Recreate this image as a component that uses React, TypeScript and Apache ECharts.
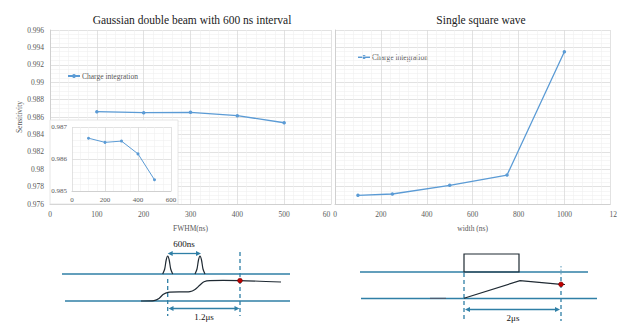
import React, { useEffect, useRef } from "react";
import * as echarts from "echarts";

const fwhm = [100, 200, 300, 400, 500];
const gaussSens = [0.98661, 0.9865, 0.98654, 0.98615, 0.98534];
const insetSens = [0.98665, 0.98652, 0.98656, 0.98616, 0.98535];
const widths = [100, 250, 500, 750, 1000];
const squareSens = [0.977, 0.97715, 0.97815, 0.97933, 0.99351];

const SERIF = "'Liberation Serif', 'Times New Roman', serif";
const TEAL = "#2f7fa6";
const DARK = "#1f2a33";
const BLUE = "#5b9bd5";
const LBL = "#595959";

function arrowHeads(x1: number, x2: number, y: number) {
  return [
    { type: "polygon", z: 20, shape: { points: [[x1, y], [x1 + 5, y - 2.5], [x1 + 5, y + 2.5]] }, style: { fill: TEAL } },
    { type: "polygon", z: 20, shape: { points: [[x2, y], [x2 - 5, y - 2.5], [x2 - 5, y + 2.5]] }, style: { fill: TEAL } },
    { type: "line", z: 20, shape: { x1: x1 + 3, y1: y, x2: x2 - 3, y2: y }, style: { stroke: TEAL, lineWidth: 1.3 } },
  ];
}

function peak(cx: number, base: number, top: number) {
  return {
    type: "polyline",
    z: 20,
    shape: {
      points: [[cx - 5, base], [cx - 3, base - 5], [cx - 1.5, top + 4], [cx, top], [cx + 1.5, top + 4], [cx + 3, base - 5], [cx + 5, base]],
      smooth: 0.3,
    },
    style: { stroke: DARK, lineWidth: 1.2, fill: null },
  };
}

export default function App() {
  const ref = useRef<HTMLDivElement>(null);
  useEffect(() => {
    if (!ref.current) return;
    const chart = echarts.init(ref.current, undefined, { renderer: "svg" });
    const majorLine = { show: true, lineStyle: { color: "#dadada", width: 0.8 } };
    const minorLine = { show: true, lineStyle: { color: "#f0f0f0", width: 0.6 } };
    const lbl = { fontFamily: SERIF, fontSize: 7.5, color: LBL };
    const plain = (v: number) => String(v);
    const dashed = (x: number, y1: number, y2: number) => ({
      type: "line", z: 20, shape: { x1: x, y1, x2: x, y2 }, style: { stroke: TEAL, lineWidth: 1.3, lineDash: [4, 3] },
    });
    const option: any = {
      animation: false,
      backgroundColor: "#ffffff",
      title: [
        { text: "Gaussian double beam with 600 ns interval", left: 187, top: 9, textAlign: "center", textStyle: { fontFamily: SERIF, fontSize: 11.5, fontWeight: "normal", color: "#222" } },
        { text: "Single square wave", left: 476, top: 9, textAlign: "center", textStyle: { fontFamily: SERIF, fontSize: 11.5, fontWeight: "normal", color: "#222" } },
      ],
      legend: [
        { data: ["Charge integration"], left: 62, top: 67, itemWidth: 12, itemHeight: 5, textStyle: { ...lbl, padding: [0, 0, 0, -3] }, selectedMode: false },
        { data: ["Charge integration"], left: 352, top: 48, itemWidth: 12, itemHeight: 5, textStyle: { ...lbl, padding: [0, 0, 0, -3] }, selectedMode: false },
      ],
      grid: [
        { left: 50, right: 289, top: 30, bottom: 119, z: 0 },
        { left: 335, right: 1, top: 30, bottom: 119, z: 6 },
        { left: 72, right: 449, top: 127, bottom: 132, z: 10 },
      ],
      xAxis: [
        {
          gridIndex: 0, type: "value", min: 0, max: 600, interval: 100, z: 0,
          name: "FWHM(ns)", nameLocation: "middle", nameGap: 20, nameTextStyle: lbl,
          axisLine: { show: true, lineStyle: { color: "#d0d0d0" } }, axisTick: { show: false },
          axisLabel: {
            ...lbl, margin: 6,
            formatter: (v: number) => (v === 600 ? "{c|60}" : String(v)),
            rich: { c: { ...lbl, padding: [0, 9, 0, 0] } },
          },
          splitLine: majorLine, minorTick: { show: false, splitNumber: 5 }, minorSplitLine: minorLine,
        },
        {
          gridIndex: 1, type: "value", min: 0, max: 1200, interval: 200, z: 6,
          name: "width (ns)", nameLocation: "middle", nameGap: 20, nameTextStyle: lbl,
          axisLine: { show: true, lineStyle: { color: "#d0d0d0" } }, axisTick: { show: false },
          axisLabel: {
            ...lbl, margin: 6,
            formatter: (v: number) => (v === 1200 ? "{c|12}" : String(v)),
            rich: { c: { ...lbl, padding: [0, 0, 0, 6] } },
          },
          splitLine: majorLine, minorTick: { show: false, splitNumber: 5 }, minorSplitLine: minorLine,
        },
        {
          gridIndex: 2, type: "value", min: 0, max: 600, interval: 200, z: 10,
          axisLine: { show: true, lineStyle: { color: "#d0d0d0" } }, axisTick: { show: false },
          axisLabel: { ...lbl, fontSize: 7, margin: 5, formatter: plain },
          splitLine: majorLine, minorTick: { show: false, splitNumber: 4 }, minorSplitLine: minorLine,
        },
      ],
      yAxis: [
        {
          gridIndex: 0, type: "value", min: 0.976, max: 0.996, interval: 0.002, z: 0,
          name: "Sensitivity", nameLocation: "middle", nameGap: 27, nameRotate: 90, nameTextStyle: lbl,
          axisLine: { show: true, lineStyle: { color: "#d0d0d0" } }, axisTick: { show: false },
          axisLabel: { ...lbl, margin: 6 },
          splitLine: majorLine, minorTick: { show: false, splitNumber: 4 }, minorSplitLine: minorLine,
        },
        {
          gridIndex: 1, type: "value", min: 0.976, max: 0.996, interval: 0.002, z: 6,
          axisLine: { show: true, lineStyle: { color: "#d0d0d0" } }, axisTick: { show: false },
          axisLabel: { show: false },
          splitLine: majorLine, minorTick: { show: false, splitNumber: 4 }, minorSplitLine: minorLine,
        },
        {
          gridIndex: 2, type: "value", min: 0.985, max: 0.987, interval: 0.001, z: 10,
          axisLine: { show: false }, axisTick: { show: false },
          axisLabel: { ...lbl, fontSize: 7, margin: 5 },
          splitLine: majorLine, minorTick: { show: false, splitNumber: 5 }, minorSplitLine: minorLine,
        },
      ],
      series: [
        {
          name: "Charge integration", type: "line", xAxisIndex: 0, yAxisIndex: 0, z: 3,
          data: fwhm.map((x, i) => [x, gaussSens[i]]),
          symbol: "circle", symbolSize: 3.5, lineStyle: { color: BLUE, width: 1.3 }, itemStyle: { color: BLUE },
        },
        {
          name: "Charge integration", type: "line", xAxisIndex: 1, yAxisIndex: 1, z: 8,
          data: widths.map((x, i) => [x, squareSens[i]]),
          symbol: "circle", symbolSize: 3.5, lineStyle: { color: BLUE, width: 1.3 }, itemStyle: { color: BLUE },
        },
        {
          name: "inset", type: "line", xAxisIndex: 2, yAxisIndex: 2, z: 12,
          data: fwhm.map((x, i) => [x, insetSens[i]]),
          symbol: "circle", symbolSize: 3, lineStyle: { color: BLUE, width: 1 }, itemStyle: { color: BLUE },
        },
      ],
      graphic: [
        // inset box
        { type: "rect", z: 9, shape: { x: 50, y: 120, width: 128, height: 84 }, style: { fill: "#ffffff", stroke: "#e0e0e0", lineWidth: 0.8 }, silent: true },
        // left diagram
        { type: "line", z: 20, shape: { x1: 62, y1: 274, x2: 290, y2: 274 }, style: { stroke: TEAL, lineWidth: 1.3 } },
        { type: "line", z: 20, shape: { x1: 65, y1: 301, x2: 290, y2: 301 }, style: { stroke: TEAL, lineWidth: 1.3 } },
        peak(167.7, 274, 256),
        peak(200, 274, 256),
        ...arrowHeads(167.7, 201, 253.5),
        { type: "text", z: 20, style: { text: "600ns", x: 184, y: 244, align: "center", verticalAlign: "middle", font: `9px ${SERIF}`, fill: "#111" } },
        dashed(167.7, 279, 316),
        dashed(240, 252, 316),
        {
          type: "polyline", z: 20,
          shape: {
            points: [[141, 301], [154, 300.6], [159, 298.5], [163, 294.5], [168, 292.3], [190, 291.6], [195, 289.5], [200, 285], [204, 281.8], [210, 280.6], [240, 280.6], [281, 282]],
            smooth: 0.25,
          },
          style: { stroke: DARK, lineWidth: 1.2, fill: null },
        },
        { type: "circle", z: 21, shape: { cx: 240, cy: 280.6, r: 2.4 }, style: { fill: "#c00000", stroke: "#5a0000", lineWidth: 0.5 } },
        ...arrowHeads(168.5, 239.5, 308.5),
        { type: "text", z: 20, style: { text: "1.2μs", x: 204, y: 316.5, align: "center", verticalAlign: "middle", font: `9px ${SERIF}`, fill: "#111" } },
        // right diagram
        { type: "line", z: 20, shape: { x1: 360, y1: 272, x2: 588, y2: 272 }, style: { stroke: TEAL, lineWidth: 1.3 } },
        { type: "line", z: 20, shape: { x1: 361, y1: 298.5, x2: 597, y2: 298.5 }, style: { stroke: TEAL, lineWidth: 1.3 } },
        { type: "rect", z: 20, shape: { x: 464, y: 254, width: 55, height: 18 }, style: { fill: null, stroke: DARK, lineWidth: 1.2 } },
        dashed(464, 273, 321),
        { type: "line", z: 20, shape: { x1: 561, y1: 266, x2: 561, y2: 276 }, style: { stroke: TEAL, lineWidth: 0.8, lineDash: [1.5, 2] } },
        dashed(561, 277, 321),
        { type: "line", z: 20, shape: { x1: 430, y1: 298.3, x2: 446, y2: 298.3 }, style: { stroke: "#556", lineWidth: 1 } },
        {
          type: "polyline", z: 20,
          shape: { points: [[464, 298.3], [520, 280.7], [561, 284.3], [565, 284.5]] },
          style: { stroke: DARK, lineWidth: 1.2, fill: null },
        },
        { type: "circle", z: 21, shape: { cx: 561, cy: 284.3, r: 2.4 }, style: { fill: "#c00000", stroke: "#5a0000", lineWidth: 0.5 } },
        ...arrowHeads(465, 560, 309.5),
        { type: "text", z: 20, style: { text: "2μs", x: 513, y: 317.5, align: "center", verticalAlign: "middle", font: `9px ${SERIF}`, fill: "#111" } },
      ],
    };
    chart.setOption(option);
    return () => chart.dispose();
  }, []);
  return <div ref={ref} style={{ position: "fixed", left: 0, top: 0, width: 620, height: 323 }} />;
}
